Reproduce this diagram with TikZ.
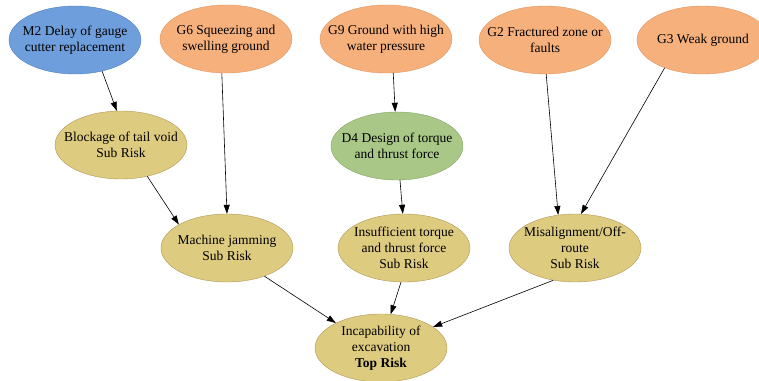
\documentclass[tikz,border=0pt]{standalone}
\usepackage{fontspec}
\setmainfont{Liberation Serif}
\usepackage{tikz}
\usetikzlibrary{shapes.geometric, arrows.meta}

\definecolor{mfill}{HTML}{6E9FDC}
\definecolor{mline}{HTML}{4F7FBE}
\definecolor{gfill}{HTML}{F6B07C}
\definecolor{gline}{HTML}{E3935C}
\definecolor{dfill}{HTML}{A9C888}
\definecolor{dline}{HTML}{86A463}
\definecolor{rfill}{HTML}{DDCB7F}
\definecolor{rline}{HTML}{B39656}

\begin{document}
\begin{tikzpicture}[
    x = 1pt, y = -1pt, align = center,
    font = \fontsize{13.5}{16}\selectfont,
    event/.style = {ellipse, draw, thin, inner xsep = -14pt, inner ysep = -3pt, minimum width = 132pt, minimum height = 68pt},
    machine/.style = {event, fill = mfill, draw = mline},
    geology/.style = {event, fill = gfill, draw = gline},
    design/.style = {event, fill = dfill, draw = dline},
    risk/.style = {event, fill = rfill, draw = rline},
    path/.style = {-{Triangle[length = 9pt, width = 6pt]}, line width = 0.6pt, black},
    ]
    \useasboundingbox (0,0) rectangle (759,380);

    % basic events
    \node [machine] (m2) at (75,40)  {M2 Delay of gauge\\cutter replacement};
    \node [geology] (g6) at (226,39) {G6 Squeezing and\\swelling ground};
    \node [geology] (g9) at (386,39) {G9 Ground with high\\water pressure};
    \node [geology] (g2) at (545,40) {G2 Fractured zone or\\faults};
    \node [geology] (g3) at (703,40) {G3 Weak ground};

    % intermediate events
    \node [risk]   (tail) at (121,145) {Blockage of tail void\\Sub Risk};
    \node [design] (d4)   at (397,146) {D4 Design of torque\\and thrust force};

    % sub risks
    \node [risk] (jam)  at (227,248) {Machine jamming\\Sub Risk};
    \node [risk] (torq) at (404,248) {Insufficient torque\\and thrust force\\Sub Risk};
    \node [risk] (mis)  at (575,248) {Misalignment/Off-\\route\\Sub Risk};

    % top event
    \node [risk] (top) at (381,348) {Incapability of\\excavation\\\textbf{Top Risk}};

    % draw paths
    \draw [path] (m2.-49)   to (tail.97);
    \draw [path] (g6.-97)   to (jam.90);
    \draw [path] (g9.-78)   to (d4.93);
    \draw [path] (d4.-85)   to (torq.92);
    \draw [path] (g2.-88)   to (mis.117);
    \draw [path] (g3.-144)  to (mis.80);
    \draw [path] (tail.-50) to (jam.154);
    \draw [path] (jam.-37)  to (top.151);
    \draw [path] (torq.-95) to (top.74);
    \draw [path] (mis.-124) to (top.22);
\end{tikzpicture}
\end{document}
